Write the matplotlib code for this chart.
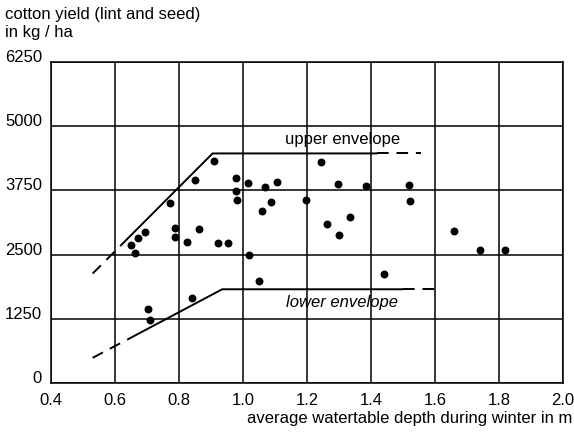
import matplotlib
matplotlib.use("Agg")
import matplotlib.pyplot as plt
import numpy as np

plt.rcParams['font.family'] = ['Liberation Sans', 'DejaVu Sans']

# watertable depth (m) and cotton yield (kg/ha) per field
depth = [0.650, 0.664, 0.672, 0.695, 0.702, 0.708, 0.773, 0.787, 0.787, 0.825,
         0.842, 0.849, 0.864, 0.908, 0.922, 0.952, 0.978, 0.979, 0.980, 1.015,
         1.018, 1.051, 1.060, 1.070, 1.086, 1.105, 1.196, 1.244, 1.262, 1.298,
         1.299, 1.333, 1.384, 1.442, 1.520, 1.521, 1.658, 1.741, 1.820]
yield_kg = [2684, 2535, 2819, 2947, 1445, 1233, 3502, 3024, 2844, 2748,
            1658, 3947, 2993, 4315, 2734, 2734, 3986, 3735, 3555, 3889,
            2496, 1980, 3348, 3825, 3528, 3922, 3560, 4301, 3090, 3876,
            2877, 3237, 3845, 2122, 3851, 3535, 2967, 2587, 2587]

# envelope vertices: dashed start, solid start, knee, solid end, dashed end
upper_x = [0.53, 0.62, 0.905, 1.42, 1.555]
upper_y = [2130, 2690, 4470, 4470, 4470]
lower_x = [0.53, 0.64, 0.935, 1.50, 1.61]
lower_y = [490, 850, 1825, 1825, 1825]

x_ticks = [0.4, 0.6, 0.8, 1.0, 1.2, 1.4, 1.6, 1.8, 2.0]
y_ticks = [0, 1250, 2500, 3750, 5000, 6250]


def draw_envelope(ax, xs, ys):
    dash = (0, (6, 4))
    ax.plot(xs[0:2], ys[0:2], color='black', lw=1.4, ls=dash)
    ax.plot(xs[1:4], ys[1:4], color='black', lw=1.4, solid_capstyle='butt')
    ax.plot(xs[3:5], ys[3:5], color='black', lw=1.4, ls=dash)


def main():
    fig = plt.figure(figsize=(5.74, 4.32), dpi=100)
    ax = fig.add_axes([51 / 574, 1 - 383 / 432, 512 / 574, 321 / 432])

    ax.set_xlim(0.4, 2.0)
    ax.set_ylim(0, 6250)
    ax.set_xticks(x_ticks)
    ax.set_yticks(y_ticks)
    ax.set_xticklabels(['%.1f' % v for v in x_ticks])
    ax.set_yticklabels([str(v) for v in y_ticks])
    ax.tick_params(length=0, labelsize=12, pad=6.5)
    ax.tick_params(axis='x', pad=7)
    for lab in ax.get_yticklabels():
        lab.set_verticalalignment('baseline')

    ax.grid(True, color='black', lw=1.1)
    for sp in ax.spines.values():
        sp.set_linewidth(1.1)

    ax.scatter(depth, yield_kg, s=22, color='black', zorder=3)

    draw_envelope(ax, upper_x, upper_y)
    draw_envelope(ax, lower_x, lower_y)

    ax.text(1.31, 4740, 'upper envelope', ha='center', va='center', fontsize=12)
    ax.text(1.31, 1573, 'lower envelope', ha='center', va='center',
            fontsize=12, style='italic')

    fig.text(5 / 574, 1 - 15 / 432, 'cotton yield (lint and seed)',
             ha='left', va='center', fontsize=12)
    fig.text(5 / 574, 1 - 33 / 432, 'in kg / ha', ha='left', va='center', fontsize=12)
    fig.text(572 / 574, 1 - 418 / 432, 'average watertable depth during winter in m',
             ha='right', va='center', fontsize=12)

    fig.savefig('out.png', dpi=100)


if __name__ == '__main__':
    main()
